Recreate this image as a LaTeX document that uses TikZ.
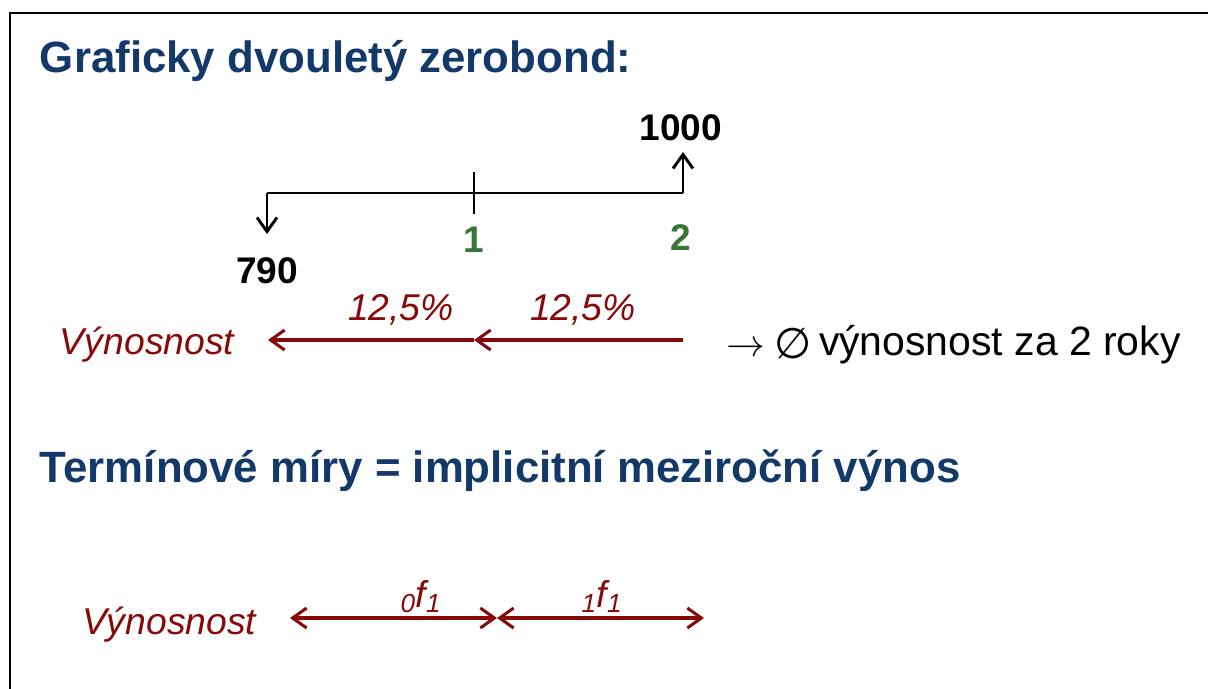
\RequirePackage{fix-cm}
\documentclass[tikz,border=0pt]{standalone}
\usepackage{fontspec}
\setmainfont{Liberation Sans}
\newfontfamily\dejavu{DejaVu Sans}
\usetikzlibrary{arrows.meta}
\definecolor{titleblue}{RGB}{18,57,105}
\definecolor{darkred}{RGB}{135,10,10}
\definecolor{tgreen}{RGB}{56,118,56}
\begin{document}
\begin{tikzpicture}[x=0.75pt,y=-0.75pt,
  every node/.style={inner sep=0pt,outer sep=0pt},
  titletext/.style={anchor=base west,text=titleblue,font=\fontsize{32.85}{38}\selectfont\bfseries},
  numtext/.style={anchor=base,font=\fontsize{27.8}{32}\selectfont\bfseries},
  greentext/.style={numtext,text=tgreen},
  redtext/.style={text=darkred,font=\fontsize{28}{32}\selectfont\itshape},
  blacktext/.style={anchor=base west,font=\fontsize{30.7}{36}\selectfont},
  blackline/.style={line width=2.2pt,black},
  blackarrow/.style={blackline,-{Straight Barb[length=10.5pt,width=15pt,line width=2.2pt]}},
  redline/.style={line width=2.3pt,darkred},
  redarrow/.style={redline,-{Straight Barb[length=10.5pt,width=15pt,line width=2.3pt]}},
  reddouble/.style={redline,{Straight Barb[length=10.5pt,width=15pt,line width=2.3pt]}-{Straight Barb[length=10.5pt,width=15pt,line width=2.3pt]}}
]
\useasboundingbox (0,0) rectangle (1208,689);
\fill[white] (0,0) rectangle (1208,689);
\draw[line width=1.6pt] (10,689) -- (10,13) -- (1208,13);

% title 1
\node[titletext] (title1) at (40,72) {Graficky dvouletý zerobond:};

% timeline
\coordinate (t0) at (267,193);
\coordinate (t1) at (474,193);
\coordinate (t2) at (683,193);
\coordinate (down) at (267,234);
\coordinate (up) at (683,152);
\coordinate (tickA) at (474,172);
\coordinate (tickB) at (474,214);
\draw[blackline] (t0) -- (t2);
\draw[blackarrow] (t0) -- (down);
\draw[blackarrow] (t2) -- (up);
\draw[blackline] (tickA) -- (tickB);

\node[numtext] (v1000) at (681,140) {1000};
\node[numtext] (v790) at (267,283) {790};
\node[greentext] (g1) at (474,252) {1};
\node[greentext] (g2) at (681,250) {2};

% yields row
\node[redtext,anchor=base west] (vyn1) at (60,354) {Výnosnost};
\node[redtext,anchor=base] (r1) at (401,320) {12,5\%};
\node[redtext,anchor=base] (r2) at (583,320) {12,5\%};
\coordinate (a0) at (268,340);
\coordinate (a1) at (474,340);
\coordinate (a2) at (683,340);
\draw[redarrow] (a2) -- (a1);
\draw[redarrow] (a1) -- (a0);
\node[anchor=base west,font=\fontsize{29}{34}\selectfont] (arr) at (726,356) {$\rightarrow$};
\node[anchor=base west,font=\dejavu\fontsize{32}{36}\selectfont] (empty) at (774,358) {∅};
\node[blacktext] (avg) at (819,355) {výnosnost za 2 roky};

% title 2
\node[titletext] (title2) at (40,482) {Termínové míry = implicitní meziroční výnos};

% forward rates row
\node[redtext,anchor=base west] (vyn2) at (82,634) {Výnosnost};
\coordinate (b0) at (290,618);
\coordinate (b1) at (497,618);
\coordinate (b2) at (704,618);
\draw[reddouble] (b0) -- (b1);
\draw[reddouble] (b1) -- (b2);
\node[redtext,anchor=base] (f01) at (421,607) {\textsubscript{0}f\textsubscript{1}};
\node[redtext,anchor=base] (f11) at (602,607) {\textsubscript{1}f\textsubscript{1}};
\end{tikzpicture}
\end{document}
